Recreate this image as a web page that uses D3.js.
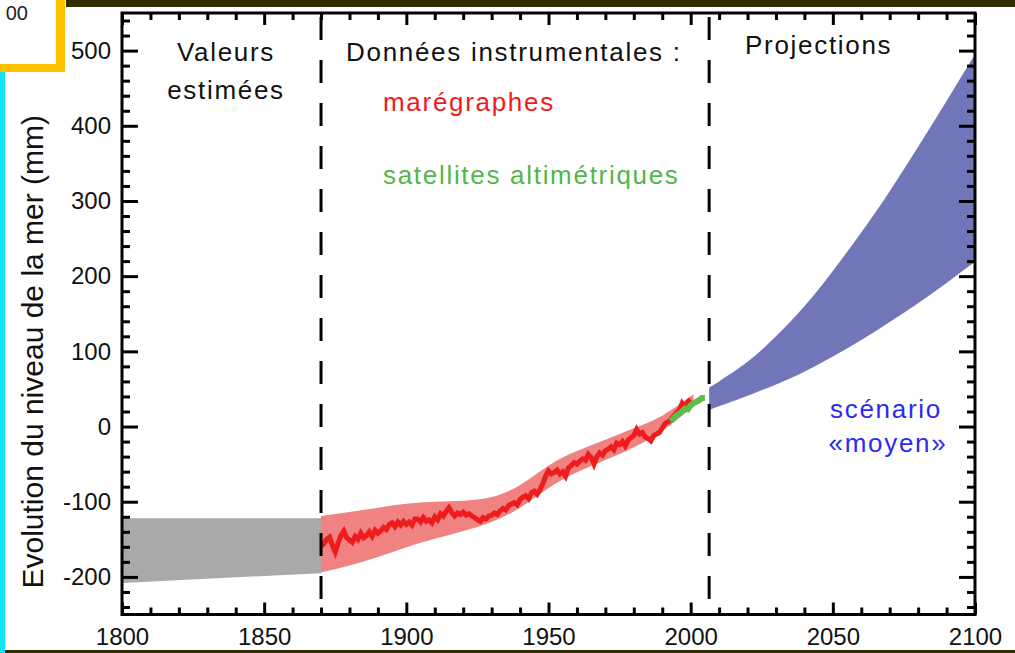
<!DOCTYPE html>
<html><head><meta charset="utf-8">
<script src="https://cdn.jsdelivr.net/npm/d3@7/dist/d3.min.js"></script>
<style>
html,body{margin:0;padding:0;background:#fff;overflow:hidden;}
svg{display:block;font-family:"Liberation Sans",Arial,Helvetica,sans-serif;}
</style></head>
<body>
<svg id="c" width="1015" height="653"></svg>
<script>
// ---- data ----
const xTicksMajor = [1800, 1850, 1900, 1950, 2000, 2050, 2100];
const yTicksMajor = [-200, -100, 0, 100, 200, 300, 400, 500];
const periodBounds = [1870, 2006.5];

const estYears = [1800, 1870];
const estLow = [-208, -195];
const estHigh = [-122, -122];

const bandYears = [1870, 1880, 1890, 1900, 1910, 1920, 1930, 1940, 1950, 1960, 1970, 1980, 1990, 2001];
const bandLow  = [-194, -185, -174, -160, -149, -139, -128, -110, -80, -60, -45, -28, -8, 27];
const bandHigh = [-119, -114, -108, -102, -100, -99, -96, -80, -50, -32, -18, -2, 12, 43];

const tideYears = d3.range(1870, 2001);
const tideValues = [
 -159,-156,-150,-147,-158,-167,-155,-145,-139,-148,
 -151,-154,-146,-150,-142,-148,-145,-140,-146,-138,
 -142,-139,-134,-137,-130,-128,-133,-127,-131,-126,
 -130,-127,-131,-123,-123,-127,-121,-126,-124,-128,
 -120,-124,-116,-119,-113,-108,-114,-119,-115,-117,
 -114,-118,-116,-119,-121,-124,-126,-121,-123,-119,
 -118,-115,-117,-112,-109,-111,-105,-103,-101,-104,
 -97,-94,-92,-96,-88,-86,-90,-84,-76,-66,
 -59,-63,-61,-58,-63,-60,-66,-55,-52,-48,
 -50,-46,-43,-45,-37,-41,-50,-40,-35,-38,
 -32,-30,-27,-31,-22,-24,-20,-26,-18,-15,
 -12,-4,-10,-8,-14,-16,-19,-12,-10,-8,
 -2,4,6,9,14,18,22,31,26,33,
 36];

const satYears = [1993, 1994, 1995, 1996, 1997, 1998, 1999, 2000, 2001, 2002, 2003, 2004, 2005];
const satValues = [7, 11, 15, 17, 20, 24, 23, 28, 31, 33, 35, 38, 38];

const projYears = [2006.5, 2010, 2020, 2030, 2040, 2050, 2060, 2070, 2080, 2090, 2100];
const projLow  = [22, 27, 41, 56, 73, 93, 115, 139, 164, 191, 219];
const projHigh = [52, 60, 86, 120, 160, 207, 258, 313, 372, 433, 495];

// ---- layout ----
const svg = d3.select("#c");
const L = 122, R = 975, T = 13, B = 614.5;
const x = d3.scaleLinear().domain([1800, 2100]).range([L, R]);
const y = d3.scaleLinear().domain([-250, 550]).range([B, T]);
const fmt = d => String(d);

// page decorations
svg.append("rect").attr("x", 66).attr("y", 0).attr("width", 949).attr("height", 7).attr("fill", "#332c00");
svg.append("rect").attr("x", 0).attr("y", 0).attr("width", 57).attr("height", 65).attr("fill", "#fff");
svg.append("rect").attr("x", 56).attr("y", 0).attr("width", 9).attr("height", 72).attr("fill", "#ffc000");
svg.append("rect").attr("x", 0).attr("y", 64).attr("width", 65).attr("height", 8).attr("fill", "#ffc000");
svg.append("text").attr("x", 28).attr("y", 20).attr("text-anchor", "end")
  .attr("font-size", 20).attr("fill", "#222").text("00");
svg.append("rect").attr("x", 0).attr("y", 72).attr("width", 5).attr("height", 581).attr("fill", "#14e4f6");
svg.append("rect").attr("x", 5).attr("y", 650).attr("width", 1010).attr("height", 3).attr("fill", "#332c00");

// estimated values band
svg.append("path")
  .datum(estYears.map((d, i) => [d, estLow[i], estHigh[i]]))
  .attr("fill", "#a9a9a9")
  .attr("d", d3.area().x(d => x(d[0])).y0(d => y(d[1])).y1(d => y(d[2])));

// tide gauge uncertainty band
svg.append("path")
  .datum(bandYears.map((d, i) => [d, bandLow[i], bandHigh[i]]))
  .attr("fill", "#f08282")
  .attr("d", d3.area().curve(d3.curveBasis).x(d => x(d[0])).y0(d => y(d[1])).y1(d => y(d[2])));

// tide gauge line
svg.append("path")
  .datum(tideYears.map((d, i) => [d, tideValues[i]]))
  .attr("fill", "none").attr("stroke", "#ee1c1c").attr("stroke-width", 5)
  .attr("stroke-linejoin", "miter")
  .attr("d", d3.line().x(d => x(d[0])).y(d => y(d[1])));

// satellite line
svg.append("path")
  .datum(satYears.map((d, i) => [d, satValues[i]]))
  .attr("fill", "none").attr("stroke", "#5cbd4a").attr("stroke-width", 6)
  .attr("d", d3.line().x(d => x(d[0])).y(d => y(d[1])));

// projection band
svg.append("path")
  .datum(projYears.map((d, i) => [d, projLow[i], projHigh[i]]))
  .attr("fill", "#7076b8")
  .attr("d", d3.area().curve(d3.curveNatural).x(d => x(d[0])).y0(d => y(d[1])).y1(d => y(d[2])));

// dashed separators
svg.selectAll("line.sep").data(periodBounds).join("line")
  .attr("class", "sep")
  .attr("x1", d => x(d)).attr("x2", d => x(d))
  .attr("y1", T + 4).attr("y2", B)
  .attr("stroke", "#000").attr("stroke-width", 3)
  .attr("stroke-dasharray", "23,20");

// axes
const xMinor = d3.range(1800, 2101, 10).filter(v => v % 50 !== 0);
const yMinor = d3.range(-240, 541, 20).filter(v => v % 100 !== 0);

function styleAxis(g) {
  g.select(".domain").remove();
  g.selectAll(".tick line").attr("stroke", "#000").attr("stroke-width", 3);
  g.selectAll("text").attr("font-size", 24).attr("fill", "#111")
    .attr("font-family", "'Liberation Sans', Arial, Helvetica, sans-serif");
}
// bottom
svg.append("g").attr("transform", `translate(0,${B})`)
  .call(d3.axisBottom(x).tickValues(xTicksMajor).tickSize(-12).tickPadding(13).tickFormat(fmt))
  .call(styleAxis);
svg.append("g").attr("transform", `translate(0,${B})`)
  .call(d3.axisBottom(x).tickValues(xMinor).tickSize(-7).tickFormat(""))
  .call(styleAxis);
// top
svg.append("g").attr("transform", `translate(0,${T})`)
  .call(d3.axisTop(x).tickValues(xTicksMajor).tickSize(-12).tickFormat(""))
  .call(styleAxis);
svg.append("g").attr("transform", `translate(0,${T})`)
  .call(d3.axisTop(x).tickValues(xMinor).tickSize(-7).tickFormat(""))
  .call(styleAxis);
// left
svg.append("g").attr("transform", `translate(${L},0)`)
  .call(d3.axisLeft(y).tickValues(yTicksMajor).tickSize(-16).tickPadding(11).tickFormat(fmt))
  .call(styleAxis);
svg.append("g").attr("transform", `translate(${L},0)`)
  .call(d3.axisLeft(y).tickValues(yMinor).tickSize(-8).tickFormat(""))
  .call(styleAxis);
// right
svg.append("g").attr("transform", `translate(${R},0)`)
  .call(d3.axisRight(y).tickValues(yTicksMajor).tickSize(-16).tickFormat(""))
  .call(styleAxis);
svg.append("g").attr("transform", `translate(${R},0)`)
  .call(d3.axisRight(y).tickValues(yMinor).tickSize(-8).tickFormat(""))
  .call(styleAxis);

// frame
svg.append("rect").attr("x", L).attr("y", T).attr("width", R - L).attr("height", B - T)
  .attr("fill", "none").attr("stroke", "#000").attr("stroke-width", 3);

// y label
svg.append("text")
  .attr("transform", `translate(43,${(T + B) / 2 + 38}) rotate(-90)`)
  .attr("text-anchor", "middle").attr("font-size", 30).attr("fill", "#111")
  .text("Evolution du niveau de la mer (mm)");

// annotations
const ann = [
  {t: "Valeurs", x: 226, y: 61, a: "middle", c: "#111"},
  {t: "estimées", x: 226, y: 99, a: "middle", c: "#111"},
  {t: "Données instrumentales :", x: 346, y: 61, a: "start", c: "#111"},
  {t: "marégraphes", x: 383, y: 111, a: "start", c: "#f01a1a"},
  {t: "satellites altimétriques", x: 383, y: 184, a: "start", c: "#55b54a"},
  {t: "Projections", x: 745, y: 54, a: "start", c: "#111"},
  {t: "scénario", x: 886, y: 418, a: "middle", c: "#2b2bf0"},
  {t: "«moyen»", x: 888, y: 452, a: "middle", c: "#2b2bf0"}
];
svg.selectAll("text.ann").data(ann).join("text")
  .attr("class", "ann")
  .attr("x", d => d.x).attr("y", d => d.y)
  .attr("text-anchor", d => d.a)
  .attr("font-size", 26).attr("letter-spacing", "1.7px")
  .attr("fill", d => d.c)
  .text(d => d.t);
</script>
</body></html>
